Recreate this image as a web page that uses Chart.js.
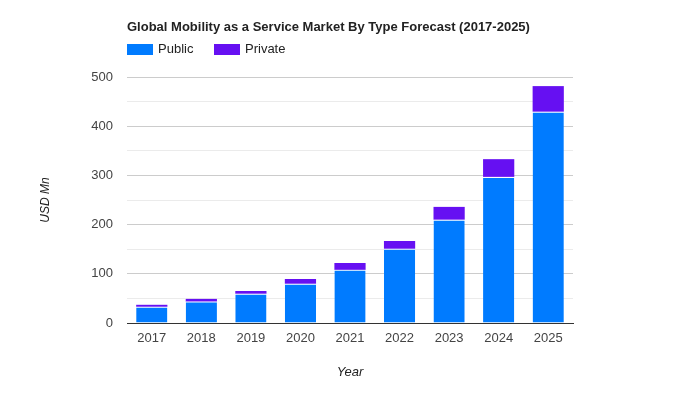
<!DOCTYPE html>
<html>
<head>
<meta charset="utf-8">
<script src="https://cdn.jsdelivr.net/npm/chart.js@4.4.0/dist/chart.umd.min.js"></script>
<style>
  html, body { margin: 0; padding: 0; background: #fff; }
</style>
</head>
<body>
<canvas id="mobilityChart" width="700" height="400"></canvas>
<script>
// data
const years = ['2017', '2018', '2019', '2020', '2021', '2022', '2023', '2024', '2025'];
const publicVals = [33, 43.5, 59.5, 80, 108, 151, 210, 297, 429.5];
const privateVals = [4, 5.5, 5.5, 9.5, 14, 15.5, 26, 36, 52];
const chartTitle = 'Global Mobility as a Service Market By Type Forecast (2017-2025)';

const FONT = '"Liberation Sans", Arial, sans-serif';

// title + legend drawn from the chart area left edge, like the original
const headerPlugin = {
  id: 'header',
  afterDraw(chart) {
    const ctx = chart.ctx;
    const left = chart.chartArea.left;
    ctx.save();
    ctx.fillStyle = '#222';
    ctx.font = 'bold 13px ' + FONT;
    ctx.textBaseline = 'middle';
    ctx.textAlign = 'left';
    ctx.fillText(chartTitle, left, 27);

    ctx.font = '13px ' + FONT;
    let x = left;
    chart.data.datasets.forEach(ds => {
      ctx.fillStyle = ds.backgroundColor;
      ctx.fillRect(x, 44, 26, 11);
      ctx.fillStyle = '#222';
      ctx.fillText(ds.label, x + 31, 49.5);
      x += 87;
    });
    ctx.restore();
  }
};

new Chart(document.getElementById('mobilityChart'), {
  type: 'bar',
  data: {
    labels: years,
    datasets: [
      {
        label: 'Public',
        data: publicVals,
        backgroundColor: '#007bff',
        borderColor: '#ffffff',
        borderWidth: { top: 1, left: 0, right: 0, bottom: 0 },
        borderSkipped: false,
        categoryPercentage: 1,
        barPercentage: 0.63
      },
      {
        label: 'Private',
        data: privateVals,
        backgroundColor: '#6610f2',
        borderWidth: 0,
        categoryPercentage: 1,
        barPercentage: 0.63
      }
    ]
  },
  options: {
    responsive: false,
    animation: false,
    layout: { padding: { top: 77, right: 127, bottom: 0, left: 0 } },
    plugins: {
      legend: { display: false },
      title: { display: false },
      tooltip: { enabled: false }
    },
    scales: {
      x: {
        stacked: true,
        afterFit: s => { s.height = 77; },
        grid: { display: false, drawTicks: false },
        border: { color: '#333', width: 1 },
        ticks: { color: '#444', padding: 8, font: { family: FONT, size: 13 } },
        title: {
          display: true, text: 'Year', color: '#222',
          font: { family: FONT, size: 13, style: 'italic' },
          padding: { top: 0, bottom: 20 }
        }
      },
      y: {
        stacked: true,
        min: 0,
        max: 500,
        afterFit: s => { s.width = 127; },
        grid: {
          drawTicks: false,
          color: c => (c.tick && c.tick.value % 100 === 0) ? '#cccccc' : '#ebebeb'
        },
        border: { display: false },
        ticks: {
          stepSize: 50,
          padding: 14,
          color: '#444',
          font: { family: FONT, size: 13 },
          callback: v => (v % 100 === 0 ? v : '')
        },
        title: {
          display: true, text: 'USD Mn', color: '#222',
          font: { family: FONT, size: 12, style: 'italic' },
          padding: { top: 38, bottom: 0 }
        }
      }
    }
  },
  plugins: [headerPlugin]
});
</script>
</body>
</html>
